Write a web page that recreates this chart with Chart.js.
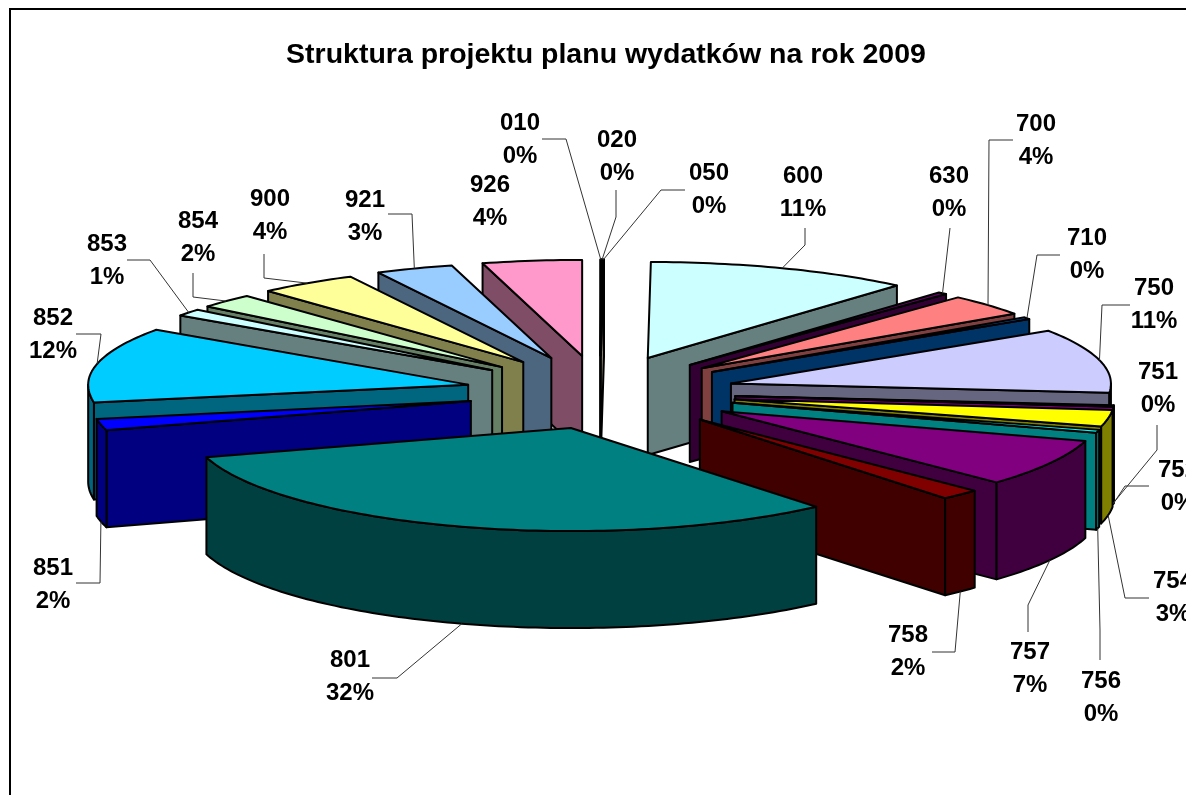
<!DOCTYPE html>
<html lang="pl">
<head>
  <meta charset="UTF-8" />
  <title>Struktura projektu planu wydatków na rok 2009</title>
  <style>
    html, body { margin: 0; height: 100%; background: #fff; overflow: hidden; }
    #frame {
      position: absolute;
      left: 9px;
      top: 8px;
      width: 1190px;
      height: 800px;
      border: 2px solid #000;
      box-sizing: content-box;
    }
  </style>
</head>
<body>
  <div id="frame"><canvas id="pie"></canvas></div>

  <script src="https://cdn.jsdelivr.net/npm/chart.js"></script>
  <script>
    const categories = ['010', '020', '050', '600', '630', '700', '710', '750', '751', '752', '754',
      '756', '757', '758', '801', '851', '852', '853', '854', '900', '921', '926'];
    const shares = [0.05, 0.03, 0.05, 11.25, 0.4, 3.6, 0.35, 10.7, 0.1, 0.1, 2.6,
      0.45, 7.45, 1.7, 31.6, 1.8, 12.45, 1.2, 2.4, 4.2, 3.3, 4.22];
    const sliceColors = ['#9999FF', '#993366', '#FFFFCC', '#CCFFFF', '#660066', '#FF8080', '#0066CC', '#CCCCFF', '#000080', '#FF00FF', '#FFFF00',
      '#00FFFF', '#800080', '#800000', '#008080', '#0000FF', '#00CCFF', '#CCFFFF', '#CCFFCC', '#FFFF99', '#99CCFF', '#FF99CC'];

    // label centres and leader lines, page pixels
    const labelAt = [[520, 123], [617, 140], [709, 173], [803, 176], [949, 176], [1036, 124], [1087, 238], [1154, 288], [1158, 372], [1178, 470], [1173, 581],
      [1101, 681], [1030, 652], [908, 635], [350, 660], [53, 568], [53, 318], [107, 244], [198, 221], [270, 199], [365, 200], [490, 185]];
    const leaderBend = [[566, 139], [616, 217], [661, 190], [805, 245], [950, 228], [989, 140], [1037, 255], [1102, 305], [1157, 450], [1125, 486], [1125, 598],
      [1100, 630], [1028, 605], [955, 652], [397, 678], [100, 583], [101, 334], [150, 260], [193, 297], [264, 278], [412, 214], null];
    const leaderEnd = [[542, 139], [616, 190], [685, 190], [805, 228], [950, 228], [1013, 140], [1060, 255], [1130, 305], [1157, 425], [1149, 486], [1149, 598],
      [1100, 660], [1028, 632], [932, 652], [372, 678], [76, 583], [76, 334], [127, 260], [193, 273], [264, 254], [388, 214], null];

    const ryBack = 96;
    const ryFront = 103;
    const depth = 97;
    const explodeX = 135;
    const explodeY = 37;
    const frontDrift = 10;
    const pieShift = -6;
    const lineColor = '#000';

    const darken = (hex) => {
      const n = parseInt(hex.slice(1), 16);
      return `rgb(${(n >> 16) / 2},${((n >> 8) & 255) / 2},${(n & 255) / 2})`;
    };

    // Chart.js has no 3D pie: the arcs keep their angles and radius, this only draws them as a tilted prism
    const slice3d = {
      id: 'slice3d',
      geometry(arc) {
        const mid = (arc.startAngle + arc.endAngle) / 2;
        return {
          x: arc.x + pieShift + Math.cos(mid) * explodeX + Math.max(0, Math.sin(mid)) * frontDrift,
          y: arc.y + Math.sin(mid) * explodeY,
          r: arc.outerRadius,
          a: arc.startAngle,
          b: arc.endAngle,
          mid
        };
      },
      rim(g, ang, drop = 0) {
        const s = Math.sin(ang);
        return [g.x + Math.cos(ang) * g.r, g.y + s * (s > 0 ? ryFront : ryBack) + drop];
      },
      rimPath(ctx, g, from, to, drop) {
        const steps = Math.max(2, Math.ceil(Math.abs(to - from) / 0.02));
        for (let k = 0; k <= steps; k++) {
          const [x, y] = this.rim(g, from + (to - from) * k / steps, drop);
          ctx.lineTo(x, y);
        }
      },
      beforeDatasetDraw(chart) {
        const { ctx } = chart;
        const arcs = chart.getDatasetMeta(0).data.map((arc, i) => ({ arc, i, g: this.geometry(arc) }));
        arcs.sort((p, q) => Math.sin(p.g.mid) - Math.sin(q.g.mid));

        ctx.save();
        ctx.lineWidth = 2;
        ctx.lineJoin = 'round';
        ctx.strokeStyle = lineColor;
        arcs.forEach(({ i, g }) => {
          const top = sliceColors[i];
          const wall = darken(top);

          const face = (pathFn, fill) => {
            ctx.beginPath();
            pathFn();
            ctx.closePath();
            ctx.fillStyle = fill;
            ctx.fill();
            ctx.stroke();
          };
          const radialWall = (ang) => {
            const [px, py] = this.rim(g, ang);
            face(() => {
              ctx.moveTo(g.x, g.y);
              ctx.lineTo(px, py);
              ctx.lineTo(px, py + depth);
              ctx.lineTo(g.x, g.y + depth);
            }, wall);
          };

          if (Math.cos(g.a) < 0) radialWall(g.a);
          if (Math.cos(g.b) > 0) radialWall(g.b);

          const from = Math.max(g.a, 0);
          const to = Math.min(g.b, Math.PI);
          if (to > from) {
            face(() => {
              this.rimPath(ctx, g, from, to, 0);
              this.rimPath(ctx, g, to, from, depth);
            }, wall);
          }

          face(() => {
            ctx.moveTo(g.x, g.y);
            this.rimPath(ctx, g, g.a, g.b, 0);
          }, top);
        });
        ctx.restore();
        return false;
      },
      afterDatasetsDraw(chart) {
        const { ctx } = chart;
        const box = chart.canvas.getBoundingClientRect();
        const total = shares.reduce((s, v) => s + v, 0);

        ctx.save();
        ctx.lineWidth = 1;
        ctx.strokeStyle = '#333';
        ctx.fillStyle = '#000';
        ctx.font = 'bold 24px "Liberation Sans", Arial, sans-serif';
        ctx.textAlign = 'center';
        ctx.textBaseline = 'middle';
        chart.getDatasetMeta(0).data.forEach((arc, i) => {
          const g = this.geometry(arc);
          if (leaderEnd[i]) {
            const [ax, ay] = this.rim(g, g.mid, Math.sin(g.mid) > 0 ? depth : 0);
            ctx.beginPath();
            ctx.moveTo(ax, ay);
            ctx.lineTo(leaderBend[i][0] - box.left, leaderBend[i][1] - box.top);
            ctx.lineTo(leaderEnd[i][0] - box.left, leaderEnd[i][1] - box.top);
            ctx.stroke();
          }
          const [lx, ly] = labelAt[i];
          ctx.fillText(categories[i], lx - box.left, ly - box.top);
          ctx.fillText(Math.round(shares[i] / total * 100) + '%', lx - box.left, ly + 33 - box.top);
        });
        ctx.restore();
      }
    };

    new Chart(document.getElementById('pie'), {
      type: 'pie',
      data: {
        labels: categories,
        datasets: [{ data: shares, backgroundColor: sliceColors, borderColor: lineColor }]
      },
      options: {
        responsive: true,
        maintainAspectRatio: false,
        animation: false,
        radius: 380,
        layout: { padding: { bottom: 97 } },
        plugins: {
          legend: { display: false },
          tooltip: { enabled: false },
          title: {
            display: true,
            text: 'Struktura projektu planu wydatków na rok 2009',
            color: '#000',
            font: { family: '"Liberation Sans", Arial, sans-serif', size: 28.5, weight: 'bold' },
            padding: { top: 28, bottom: 0 }
          }
        }
      },
      plugins: [slice3d]
    });
  </script>
</body>
</html>
